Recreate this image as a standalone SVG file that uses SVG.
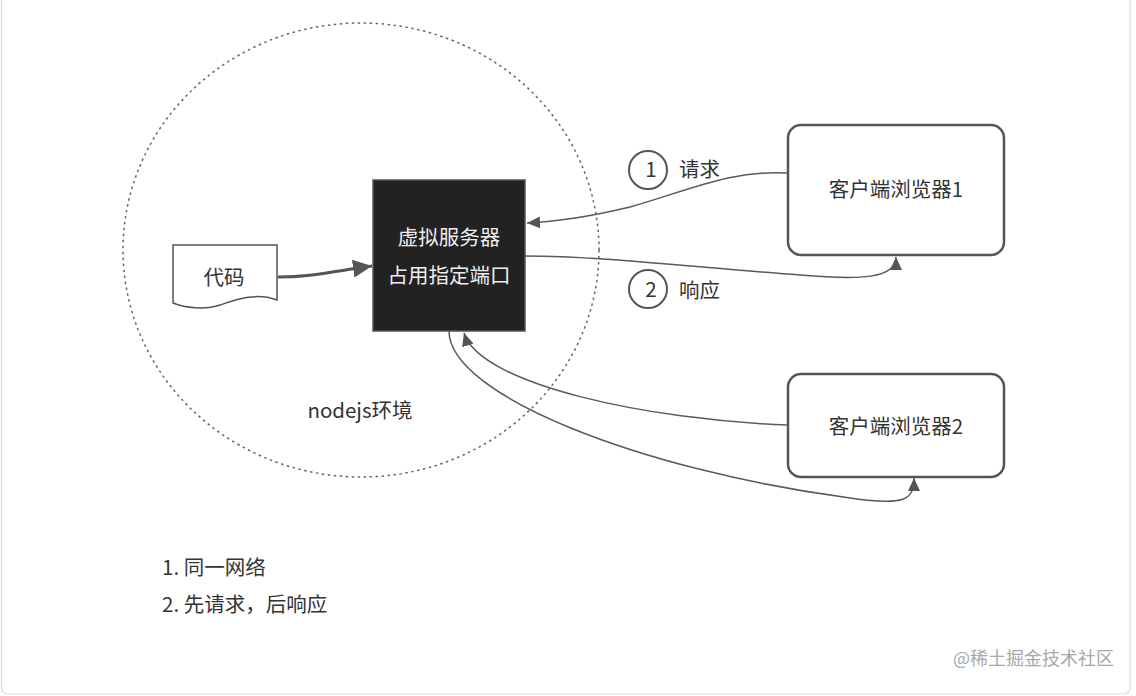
<svg xmlns="http://www.w3.org/2000/svg" width="1136" height="696" viewBox="0 0 1136 696">
<defs>
<style>
text{font-family:"Noto Sans CJK SC","Microsoft YaHei","Noto Sans",sans-serif;fill:#333;font-size:20.5px}
.mid{text-anchor:middle}
.box{fill:#fff;stroke:#555;stroke-width:2.5}
.edge{fill:none;stroke:#5a5a5a;stroke-width:1.5}
.thick{fill:none;stroke:#555;stroke-width:3}
.num{fill:#fff;stroke:#555;stroke-width:2}
</style>
<marker id="ah" markerUnits="userSpaceOnUse" markerWidth="14" markerHeight="12" viewBox="0 0 14 12" refX="13" refY="6" orient="auto">
<path d="M0 0 L13 6 L0 12 Z" fill="#555"/>
</marker>
<marker id="ahBig" markerUnits="userSpaceOnUse" markerWidth="20" markerHeight="18" viewBox="0 0 20 18" refX="19" refY="9" orient="auto">
<path d="M0 0 L19 9 L0 18 Z" fill="#555"/>
</marker>
</defs>
<rect x="1.5" y="-10" width="1128.5" height="704" rx="6" fill="#fff" stroke="#dcdcdc" stroke-width="1.2"/>
<g id="env">
<ellipse cx="361" cy="250" rx="238" ry="227" fill="none" stroke="#666" stroke-width="1.5" stroke-dasharray="2.5 3.5"/>
<text class="mid" x="360" y="418">nodejs环境</text>
</g>
<g id="connectors">
<path class="thick" d="M278 277 C310 277 330 272 372 266" marker-end="url(#ahBig)"/>
<path class="edge" d="M787 173 C730 170 690 190 630 207 C580 219 550 222 527 223" marker-end="url(#ah)"/>
<path class="edge" d="M525 256 C600 256 700 268 800 275 C860 280 896 279 896 257" marker-end="url(#ah)"/>
<path class="edge" d="M787 425 C650 420 480 385 464 333" marker-end="url(#ah)"/>
<path class="edge" d="M449 331 C449 395 640 470 850 498 C905 506 914 500 914 478" marker-end="url(#ah)"/>
</g>
<g id="code">
<path d="M173 245 H277 V300 C255 292 235 300 220 305 C205 310 185 308 173 303 Z" fill="#fff" stroke="#555" stroke-width="1.5"/>
<text class="mid" x="224" y="285">代码</text>
</g>
<g id="server">
<rect x="373" y="180" width="152" height="151" fill="#222" stroke="#555" stroke-width="1.5"/>
<text class="mid" x="449" y="245" style="fill:#eee">虚拟服务器</text>
<text class="mid" x="449" y="283" style="fill:#eee">占用指定端口</text>
</g>
<g id="client1">
<rect class="box" x="788" y="125" width="216" height="130" rx="13"/>
<text class="mid" x="896" y="197">客户端浏览器1</text>
</g>
<g id="client2">
<rect class="box" x="788" y="374" width="216" height="103" rx="13"/>
<text class="mid" x="896" y="434">客户端浏览器2</text>
</g>
<g id="label1">
<circle class="num" cx="648" cy="170" r="19"/>
<text class="mid" x="651" y="177">1</text>
<text x="679" y="177">请求</text>
</g>
<g id="label2">
<circle class="num" cx="648" cy="289" r="19"/>
<text class="mid" x="651" y="297">2</text>
<text x="679" y="298">响应</text>
</g>
<g id="notes">
<text x="162" y="575">1. 同一网络</text>
<text x="162" y="612">2. 先请求，后响应</text>
</g>
<text x="953" y="665" style="fill:#a8a8a8;font-size:18px">@稀土掘金技术社区</text>
</svg>
